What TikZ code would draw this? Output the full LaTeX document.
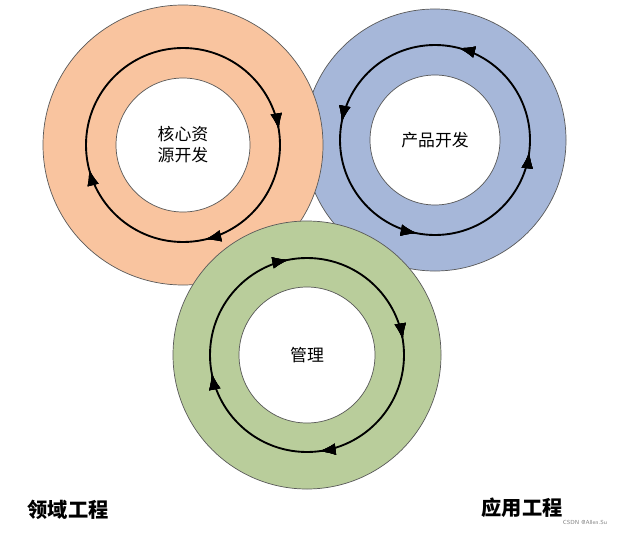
\documentclass[tikz,border=0pt]{standalone}
\usepackage{fontspec}
\newfontfamily\cjk{Noto Sans CJK SC}
\usetikzlibrary{decorations.markings,arrows.meta}
\definecolor{ringorange}{HTML}{F9C49F}
\definecolor{ringblue}{HTML}{A6B7D9}
\definecolor{ringgreen}{HTML}{B9CD9B}
\tikzset{
  ring/.style={draw=gray!70!black, line width=0.6pt, even odd rule},
  flow/.style={line width=1.6pt},
  back/.style={postaction={decorate}, decoration={markings,
    mark=at position #1 with {\arrowreversed{Latex[length=14pt,width=10pt]}}}},
  fwd/.style={postaction={decorate}, decoration={markings,
    mark=at position #1 with {\arrow{Latex[length=14pt,width=10pt]}}}},
  label/.style={font=\cjk\Large}
}
\begin{document}
\begin{tikzpicture}[x=0.03cm, y=-0.03cm]
    \useasboundingbox (0,0) rectangle (629,534);
    \fill[white] (0,0) rectangle (629,534);

    % blue ring
    \fill[ring, fill=ringblue] (435,140) circle (131) (435,140) circle (65);
    \draw[flow, back=0.02, back=0.28, back=0.53, back=0.79] (435,140) circle (95);
    \node[label] (product) at (435,140) {产品开发};

    % orange ring
    \fill[ring, fill=ringorange] (183,145) circle (140) (183,145) circle (67);
    \draw[flow, fwd=0.214, fwd=0.46, fwd=0.975] (183,145) circle (97);
    \node[label, align=center] (core) at (183,145) {核心资\\源开发};

    % green ring
    \fill[ring, fill=ringgreen] (307,355) circle (134) (307,355) circle (68);
    \draw[flow, fwd=0.23, fwd=0.47, fwd=0.72, fwd=0.975] (307,355) circle (97);
    \node[label] (manage) at (307,355) {管理};

    \node[font=\cjk\bfseries\LARGE] (domain) at (68,510) {领域工程};
    \node[font=\cjk\bfseries\LARGE] (app) at (522,508) {应用工程};
    \node[font=\sffamily\tiny, text=gray] (mark) at (585,522) {CSDN @Allen.Su};
\end{tikzpicture}
\end{document}
